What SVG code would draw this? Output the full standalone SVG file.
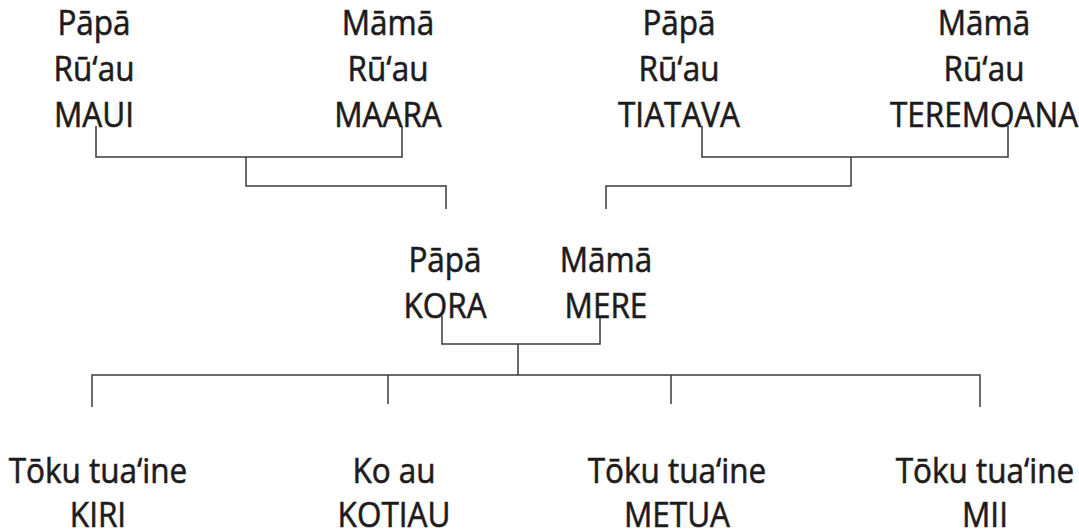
<svg xmlns="http://www.w3.org/2000/svg" width="1079" height="531" viewBox="0 0 1079 531">
<style>
text{font-family:"Open Sans","Noto Sans","Liberation Sans",sans-serif;font-size:35px;fill:#1e1b1c;stroke:#1e1b1c;stroke-width:0.6;text-anchor:middle}
.c{fill:none;stroke:#3a3a3a;stroke-width:1.5}
</style>
<rect width="1079" height="531" fill="#fff"/>
<g id="connectors" class="c">
<path d="M96,126 V157 H402 V126"/>
<path d="M246,157 V186 H446 V209"/>
<path d="M702,126 V157 H1008 V126"/>
<path d="M851,157 V186 H606 V209"/>
<path d="M442,316 V344 H600 V316"/>
<path d="M518,344 V375"/>
<path d="M92,407 V375 H980 V407"/>
<path d="M388,375 V404"/>
<path d="M671,375 V404"/>
</g>
<g id="n-papa-maui" transform="translate(94,0) scale(0.9,1)">
<text y="35">Pāpā</text><text y="81">Rū‘au</text><text y="127">MAUI</text>
</g>
<g id="n-mama-maara" transform="translate(388,0) scale(0.9,1)">
<text y="35">Māmā</text><text y="81">Rū‘au</text><text y="127">MAARA</text>
</g>
<g id="n-papa-tiatava" transform="translate(679,0) scale(0.9,1)">
<text y="35">Pāpā</text><text y="81">Rū‘au</text><text y="127">TIATAVA</text>
</g>
<g id="n-mama-teremoana" transform="translate(984,0) scale(0.9,1)">
<text y="35">Māmā</text><text y="81">Rū‘au</text><text y="127">TEREMOANA</text>
</g>
<g id="n-kora" transform="translate(445,0) scale(0.9,1)">
<text y="272">Pāpā</text><text y="318">KORA</text>
</g>
<g id="n-mere" transform="translate(606,0) scale(0.9,1)">
<text y="272">Māmā</text><text y="318">MERE</text>
</g>
<g id="n-kiri" transform="translate(98,0) scale(0.9,1)">
<text y="483">Tōku tua‘ine</text><text y="527">KIRI</text>
</g>
<g id="n-kotiau" transform="translate(394,0) scale(0.9,1)">
<text y="483">Ko au</text><text y="527">KOTIAU</text>
</g>
<g id="n-metua" transform="translate(677,0) scale(0.9,1)">
<text y="483">Tōku tua‘ine</text><text y="527">METUA</text>
</g>
<g id="n-mii" transform="translate(985,0) scale(0.9,1)">
<text y="483">Tōku tua‘ine</text><text y="527">MII</text>
</g>
</svg>
